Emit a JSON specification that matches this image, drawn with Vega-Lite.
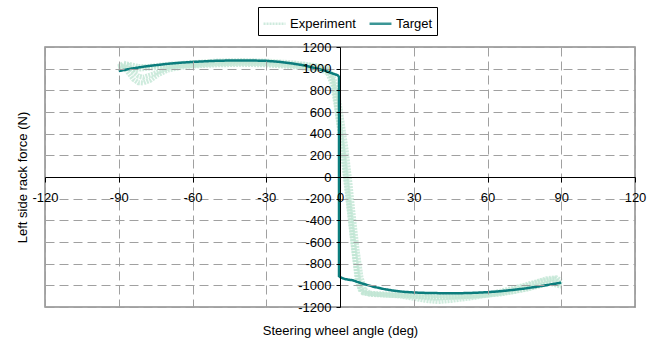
{
  "$schema": "https://vega.github.io/schema/vega-lite/v6.json",
  "width": 590,
  "height": 260,
  "autosize": {"type": "none"},
  "padding": {"left": 45, "top": 47, "right": 25, "bottom": 37},
  "background": "white",
  "config": {
    "font": "Liberation Sans",
    "view": {"stroke": "#8c8c8c", "strokeWidth": 1.5},
    "legend": {"symbolStrokeWidth": 2.5}
  },
  "data": {
    "values": [
      {"s":"Experiment","r":"A","i":1,"x":-90,"y":1000},{"s":"Experiment","r":"A","i":2,"x":-88,"y":1020},{"s":"Experiment","r":"A","i":3,"x":-86,"y":960},{"s":"Experiment","r":"A","i":4,"x":-84,"y":900},{"s":"Experiment","r":"A","i":5,"x":-82,"y":870},{"s":"Experiment","r":"A","i":6,"x":-80,"y":868},{"s":"Experiment","r":"A","i":7,"x":-77,"y":895},{"s":"Experiment","r":"A","i":8,"x":-74,"y":945},{"s":"Experiment","r":"A","i":9,"x":-70,"y":988},{"s":"Experiment","r":"A","i":10,"x":-65,"y":1010},{"s":"Experiment","r":"A","i":11,"x":-60,"y":1025},{"s":"Experiment","r":"A","i":12,"x":-50,"y":1035},{"s":"Experiment","r":"A","i":13,"x":-40,"y":1040},{"s":"Experiment","r":"A","i":14,"x":-30,"y":1035},{"s":"Experiment","r":"A","i":15,"x":-20,"y":1020},{"s":"Experiment","r":"A","i":16,"x":-12,"y":1000},{"s":"Experiment","r":"A","i":17,"x":-8,"y":990},{"s":"Experiment","r":"A","i":18,"x":-5,"y":960},{"s":"Experiment","r":"A","i":19,"x":-3,"y":850},{"s":"Experiment","r":"A","i":20,"x":-1.5,"y":650},{"s":"Experiment","r":"A","i":21,"x":0,"y":420},{"s":"Experiment","r":"A","i":22,"x":1.5,"y":150},{"s":"Experiment","r":"A","i":23,"x":3,"y":-150},{"s":"Experiment","r":"A","i":24,"x":4.5,"y":-450},{"s":"Experiment","r":"A","i":25,"x":6,"y":-750},{"s":"Experiment","r":"A","i":26,"x":7.5,"y":-990},{"s":"Experiment","r":"A","i":27,"x":9,"y":-1060},{"s":"Experiment","r":"A","i":28,"x":12,"y":-1080},{"s":"Experiment","r":"A","i":29,"x":20,"y":-1090},{"s":"Experiment","r":"A","i":30,"x":30,"y":-1100},{"s":"Experiment","r":"A","i":31,"x":38,"y":-1120},{"s":"Experiment","r":"A","i":32,"x":45,"y":-1110},{"s":"Experiment","r":"A","i":33,"x":55,"y":-1100},{"s":"Experiment","r":"A","i":34,"x":65,"y":-1080},{"s":"Experiment","r":"A","i":35,"x":75,"y":-1040},{"s":"Experiment","r":"A","i":36,"x":82,"y":-1000},{"s":"Experiment","r":"A","i":37,"x":87,"y":-970},{"s":"Experiment","r":"A","i":38,"x":90,"y":-1000},
      {"s":"Experiment","r":"B","i":1,"x":-90,"y":1010},{"s":"Experiment","r":"B","i":2,"x":-88,"y":1040},{"s":"Experiment","r":"B","i":3,"x":-86,"y":1030},{"s":"Experiment","r":"B","i":4,"x":-84,"y":970},{"s":"Experiment","r":"B","i":5,"x":-82,"y":930},{"s":"Experiment","r":"B","i":6,"x":-80,"y":920},{"s":"Experiment","r":"B","i":7,"x":-76,"y":950},{"s":"Experiment","r":"B","i":8,"x":-72,"y":990},{"s":"Experiment","r":"B","i":9,"x":-68,"y":1020},{"s":"Experiment","r":"B","i":10,"x":-60,"y":1040},{"s":"Experiment","r":"B","i":11,"x":-50,"y":1060},{"s":"Experiment","r":"B","i":12,"x":-40,"y":1065},{"s":"Experiment","r":"B","i":13,"x":-30,"y":1060},{"s":"Experiment","r":"B","i":14,"x":-20,"y":1045},{"s":"Experiment","r":"B","i":15,"x":-12,"y":1030},{"s":"Experiment","r":"B","i":16,"x":-7,"y":1010},{"s":"Experiment","r":"B","i":17,"x":-4,"y":970},{"s":"Experiment","r":"B","i":18,"x":-2,"y":800},{"s":"Experiment","r":"B","i":19,"x":-0.5,"y":500},{"s":"Experiment","r":"B","i":20,"x":1,"y":250},{"s":"Experiment","r":"B","i":21,"x":2.5,"y":-50},{"s":"Experiment","r":"B","i":22,"x":4,"y":-350},{"s":"Experiment","r":"B","i":23,"x":5.5,"y":-650},{"s":"Experiment","r":"B","i":24,"x":7,"y":-950},{"s":"Experiment","r":"B","i":25,"x":8.5,"y":-1060},{"s":"Experiment","r":"B","i":26,"x":11,"y":-1075},{"s":"Experiment","r":"B","i":27,"x":20,"y":-1080},{"s":"Experiment","r":"B","i":28,"x":30,"y":-1085},{"s":"Experiment","r":"B","i":29,"x":40,"y":-1095},{"s":"Experiment","r":"B","i":30,"x":50,"y":-1100},{"s":"Experiment","r":"B","i":31,"x":60,"y":-1090},{"s":"Experiment","r":"B","i":32,"x":70,"y":-1060},{"s":"Experiment","r":"B","i":33,"x":78,"y":-1020},{"s":"Experiment","r":"B","i":34,"x":85,"y":-980},{"s":"Experiment","r":"B","i":35,"x":90,"y":-1010},
      {"s":"Experiment","r":"C","i":1,"x":-90,"y":1020},{"s":"Experiment","r":"C","i":2,"x":-88,"y":1050},{"s":"Experiment","r":"C","i":3,"x":-86,"y":1040},{"s":"Experiment","r":"C","i":4,"x":-82,"y":1020},{"s":"Experiment","r":"C","i":5,"x":-78,"y":1020},{"s":"Experiment","r":"C","i":6,"x":-70,"y":1040},{"s":"Experiment","r":"C","i":7,"x":-60,"y":1055},{"s":"Experiment","r":"C","i":8,"x":-50,"y":1070},{"s":"Experiment","r":"C","i":9,"x":-40,"y":1075},{"s":"Experiment","r":"C","i":10,"x":-30,"y":1070},{"s":"Experiment","r":"C","i":11,"x":-20,"y":1055},{"s":"Experiment","r":"C","i":12,"x":-14,"y":1040},{"s":"Experiment","r":"C","i":13,"x":-8,"y":1020},{"s":"Experiment","r":"C","i":14,"x":-5,"y":1000},{"s":"Experiment","r":"C","i":15,"x":-3,"y":900},{"s":"Experiment","r":"C","i":16,"x":-1,"y":620},{"s":"Experiment","r":"C","i":17,"x":0.5,"y":380},{"s":"Experiment","r":"C","i":18,"x":2,"y":120},{"s":"Experiment","r":"C","i":19,"x":3.5,"y":-180},{"s":"Experiment","r":"C","i":20,"x":5,"y":-480},{"s":"Experiment","r":"C","i":21,"x":6.5,"y":-780},{"s":"Experiment","r":"C","i":22,"x":8,"y":-1000},{"s":"Experiment","r":"C","i":23,"x":9.5,"y":-1070},{"s":"Experiment","r":"C","i":24,"x":13,"y":-1085},{"s":"Experiment","r":"C","i":25,"x":20,"y":-1090},{"s":"Experiment","r":"C","i":26,"x":30,"y":-1100},{"s":"Experiment","r":"C","i":27,"x":40,"y":-1110},{"s":"Experiment","r":"C","i":28,"x":50,"y":-1105},{"s":"Experiment","r":"C","i":29,"x":60,"y":-1080},{"s":"Experiment","r":"C","i":30,"x":70,"y":-1030},{"s":"Experiment","r":"C","i":31,"x":78,"y":-980},{"s":"Experiment","r":"C","i":32,"x":84,"y":-940},{"s":"Experiment","r":"C","i":33,"x":88,"y":-930},{"s":"Experiment","r":"C","i":34,"x":90,"y":-960},
      {"s":"Experiment","r":"D","i":1,"x":-90,"y":990},{"s":"Experiment","r":"D","i":2,"x":-87,"y":1010},{"s":"Experiment","r":"D","i":3,"x":-84,"y":990},{"s":"Experiment","r":"D","i":4,"x":-80,"y":1000},{"s":"Experiment","r":"D","i":5,"x":-70,"y":1020},{"s":"Experiment","r":"D","i":6,"x":-60,"y":1030},{"s":"Experiment","r":"D","i":7,"x":-50,"y":1045},{"s":"Experiment","r":"D","i":8,"x":-40,"y":1050},{"s":"Experiment","r":"D","i":9,"x":-30,"y":1045},{"s":"Experiment","r":"D","i":10,"x":-20,"y":1030},{"s":"Experiment","r":"D","i":11,"x":-12,"y":1010},{"s":"Experiment","r":"D","i":12,"x":-6,"y":990},{"s":"Experiment","r":"D","i":13,"x":-3,"y":950},{"s":"Experiment","r":"D","i":14,"x":-1,"y":780},{"s":"Experiment","r":"D","i":15,"x":1,"y":480},{"s":"Experiment","r":"D","i":16,"x":2.5,"y":250},{"s":"Experiment","r":"D","i":17,"x":4,"y":-50},{"s":"Experiment","r":"D","i":18,"x":5.5,"y":-380},{"s":"Experiment","r":"D","i":19,"x":7,"y":-680},{"s":"Experiment","r":"D","i":20,"x":8.5,"y":-920},{"s":"Experiment","r":"D","i":21,"x":10,"y":-1040},{"s":"Experiment","r":"D","i":22,"x":12,"y":-1070},{"s":"Experiment","r":"D","i":23,"x":16,"y":-1085},{"s":"Experiment","r":"D","i":24,"x":25,"y":-1100},{"s":"Experiment","r":"D","i":25,"x":35,"y":-1140},{"s":"Experiment","r":"D","i":26,"x":40,"y":-1150},{"s":"Experiment","r":"D","i":27,"x":45,"y":-1140},{"s":"Experiment","r":"D","i":28,"x":55,"y":-1110},{"s":"Experiment","r":"D","i":29,"x":65,"y":-1070},{"s":"Experiment","r":"D","i":30,"x":75,"y":-1010},{"s":"Experiment","r":"D","i":31,"x":82,"y":-960},{"s":"Experiment","r":"D","i":32,"x":87,"y":-940},{"s":"Experiment","r":"D","i":33,"x":90,"y":-990},
      {"s":"Target","r":"T","i":1,"x":-90,"y":978},{"s":"Target","r":"T","i":2,"x":-85,"y":1000},{"s":"Target","r":"T","i":3,"x":-80,"y":1018},{"s":"Target","r":"T","i":4,"x":-75,"y":1032},{"s":"Target","r":"T","i":5,"x":-70,"y":1045},{"s":"Target","r":"T","i":6,"x":-65,"y":1055},{"s":"Target","r":"T","i":7,"x":-60,"y":1062},{"s":"Target","r":"T","i":8,"x":-55,"y":1068},{"s":"Target","r":"T","i":9,"x":-50,"y":1073},{"s":"Target","r":"T","i":10,"x":-45,"y":1075},{"s":"Target","r":"T","i":11,"x":-40,"y":1076},{"s":"Target","r":"T","i":12,"x":-35,"y":1075},{"s":"Target","r":"T","i":13,"x":-30,"y":1072},{"s":"Target","r":"T","i":14,"x":-25,"y":1064},{"s":"Target","r":"T","i":15,"x":-20,"y":1050},{"s":"Target","r":"T","i":16,"x":-15,"y":1032},{"s":"Target","r":"T","i":17,"x":-10,"y":1005},{"s":"Target","r":"T","i":18,"x":-6,"y":980},{"s":"Target","r":"T","i":19,"x":-3,"y":955},{"s":"Target","r":"T","i":20,"x":-1,"y":940},{"s":"Target","r":"T","i":21,"x":-0.4,"y":925},{"s":"Target","r":"T","i":22,"x":-0.4,"y":-915},{"s":"Target","r":"T","i":23,"x":0.5,"y":-930},{"s":"Target","r":"T","i":24,"x":2,"y":-942},{"s":"Target","r":"T","i":25,"x":4,"y":-950},{"s":"Target","r":"T","i":26,"x":5,"y":-952},{"s":"Target","r":"T","i":27,"x":7,"y":-968},{"s":"Target","r":"T","i":28,"x":10,"y":-990},{"s":"Target","r":"T","i":29,"x":14,"y":-1015},{"s":"Target","r":"T","i":30,"x":18,"y":-1035},{"s":"Target","r":"T","i":31,"x":22,"y":-1050},{"s":"Target","r":"T","i":32,"x":26,"y":-1060},{"s":"Target","r":"T","i":33,"x":30,"y":-1066},{"s":"Target","r":"T","i":34,"x":35,"y":-1070},{"s":"Target","r":"T","i":35,"x":40,"y":-1072},{"s":"Target","r":"T","i":36,"x":45,"y":-1073},{"s":"Target","r":"T","i":37,"x":50,"y":-1072},{"s":"Target","r":"T","i":38,"x":55,"y":-1069},{"s":"Target","r":"T","i":39,"x":60,"y":-1063},{"s":"Target","r":"T","i":40,"x":65,"y":-1055},{"s":"Target","r":"T","i":41,"x":70,"y":-1043},{"s":"Target","r":"T","i":42,"x":75,"y":-1030},{"s":"Target","r":"T","i":43,"x":80,"y":-1013},{"s":"Target","r":"T","i":44,"x":85,"y":-995},{"s":"Target","r":"T","i":45,"x":90,"y":-975}
    ]
  },
  "encoding": {
    "x": {
      "field": "x", "type": "quantitative",
      "scale": {"domain": [-120, 120], "nice": false, "zero": false},
      "axis": {
        "values": [-120, -90, -60, -30, 0, 30, 60, 90, 120],
        "labelExpr": "'' + datum.value",
        "offset": -130,
        "zindex": 1,
        "grid": true, "gridDash": [9, 5], "gridColor": "#a0a0a0", "gridWidth": 1,
        "domainColor": "#000000", "domainWidth": 1,
        "tickColor": "#000000", "tickSize": 5,
        "labelFontSize": 13, "labelColor": "#000000", "labelPadding": 9,
        "labelFlush": false, "labelOverlap": false,
        "title": "Steering wheel angle (deg)",
        "titleFontSize": 13, "titleFontWeight": "normal", "titleColor": "#000000",
        "titleY": 153, "titleBaseline": "middle"
      }
    },
    "y": {
      "field": "y", "type": "quantitative",
      "scale": {"domain": [-1200, 1200], "nice": false},
      "axis": {
        "values": [-1200, -1000, -800, -600, -400, -200, 0, 200, 400, 600, 800, 1000, 1200],
        "labelExpr": "'' + datum.value",
        "offset": -295,
        "zindex": 1,
        "grid": true, "gridDash": [9, 5], "gridColor": "#a0a0a0", "gridWidth": 1,
        "domainColor": "#000000", "domainWidth": 1,
        "tickColor": "#000000", "tickSize": 4,
        "labelFontSize": 13, "labelColor": "#000000", "labelPadding": 5,
        "labelFlush": false, "labelOverlap": false,
        "title": "Left side rack force (N)",
        "titleFontSize": 13, "titleFontWeight": "normal", "titleColor": "#000000",
        "titleX": -311, "titleY": 130
      }
    },
    "color": {
      "field": "s", "type": "nominal",
      "scale": {"domain": ["Experiment", "Target"], "range": ["#c2e6d5", "#0b7d7d"]},
      "legend": {
        "title": null, "orient": "none", "legendX": 213, "legendY": -40,
        "direction": "horizontal", "strokeColor": "#000000", "padding": 4,
        "labelFontSize": 13, "labelColor": "#000000", "symbolType": "stroke",
        "symbolSize": 480, "columnPadding": 8, "labelOffset": 3
      }
    },
    "strokeDash": {
      "field": "s", "type": "nominal",
      "scale": {"domain": ["Experiment", "Target"], "range": [[2, 1], [1, 0]]},
      "legend": {
        "title": null, "orient": "none", "legendX": 213, "legendY": -40,
        "direction": "horizontal", "strokeColor": "#000000", "padding": 4,
        "labelFontSize": 13, "labelColor": "#000000", "symbolType": "stroke",
        "symbolSize": 480, "columnPadding": 8, "labelOffset": 3
      }
    },
    "detail": {"field": "r", "type": "nominal"},
    "order": {"field": "i", "type": "quantitative"}
  },
  "layer": [
    {
      "transform": [{"filter": "datum.s === 'Experiment'"}],
      "mark": {"type": "line", "strokeWidth": 5, "opacity": 0.8}
    },
    {
      "transform": [{"filter": "datum.s === 'Target'"}],
      "mark": {"type": "line", "strokeWidth": 2.5}
    }
  ]
}
